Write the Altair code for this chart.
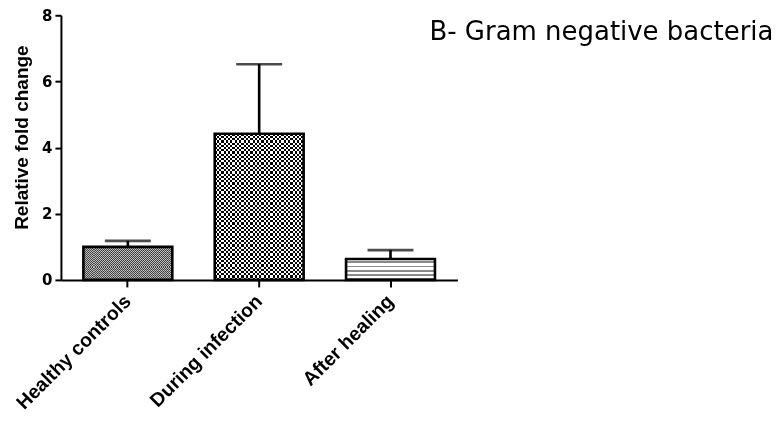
import altair as alt
import pandas as pd

categories = ["Healthy controls", "During infection", "After healing"]
means = [1.0, 4.42, 0.63]
errors = [0.18, 2.10, 0.27]
y_ticks = [0, 2, 4, 6, 8]
title_text = "B- Gram negative bacteria"
y_title = "Relative fold change"

df = pd.DataFrame({
    "group": categories,
    "mean": means,
    "upper": [m + e for m, e in zip(means, errors)],
})

FONT = "Liberation Sans"
WIDE = "DejaVu Sans"


def stripes(n, c1, c2, frac=0.5, vertical=False):
    stops = []
    for i in range(n):
        a = i / n
        b = (i + frac) / n
        c = (i + 1) / n
        stops += [alt.GradientStop(offset=a, color=c1), alt.GradientStop(offset=b, color=c1),
                  alt.GradientStop(offset=b, color=c2), alt.GradientStop(offset=c, color=c2)]
    if vertical:  # colour varies along y -> horizontal stripes
        return alt.LinearGradient(gradient="linear", stops=stops, x1=0, x2=0, y1=0, y2=1)
    return alt.LinearGradient(gradient="linear", stops=stops, x1=0, x2=1, y1=0, y2=0)


x_enc = alt.X(
    "group:N", sort=categories,
    scale=alt.Scale(paddingInner=0.323, paddingOuter=0.171),
    axis=alt.Axis(title=None, labelAngle=-45, labelAlign="right", labelBaseline="middle",
                  labelPadding=11, tickSize=7, labelFont=FONT, labelFontSize=19.5),
)
y_enc = alt.Y(
    "mean:Q", scale=alt.Scale(domain=[0, 8]),
    axis=alt.Axis(title=y_title, values=y_ticks, grid=False, tickSize=6, labelPadding=3,
                  labelFont=WIDE, labelFontSize=15,
                  titlePadding=10, titleFontSize=19, titleFontWeight="bold", titleFont=FONT,
                  titleColor="black", titleY=122),
)

base = alt.Chart(df).encode(x=x_enc, y=y_enc)


def only(name):
    return base.transform_filter(alt.datum.group == name)


healthy_a = only(categories[0]).mark_bar(fill=stripes(44, "#4a4a4a", "#c4c4c4"), strokeWidth=0)
healthy_b = only(categories[0]).mark_bar(fill=stripes(16, "#000000", "#ffffff", vertical=True),
                                         strokeWidth=0, blend="difference")
inf_a = only(categories[1]).mark_bar(fill=stripes(20, "#000000", "#ffffff"), strokeWidth=0)
inf_b = only(categories[1]).mark_bar(fill=stripes(33, "#000000", "#ffffff", vertical=True),
                                     strokeWidth=0, blend="difference")
after_a = only(categories[2]).mark_bar(fill=stripes(5, "#ffffff", "#8a8a8a", frac=0.55, vertical=True),
                                       strokeWidth=0)

outline = base.mark_bar(fillOpacity=0, stroke="black", strokeWidth=2.6)
err_rule = base.mark_rule(color="black", strokeWidth=2.6).encode(y2="upper:Q")
err_cap = base.mark_tick(color="black", thickness=2.6, size=46, orient="horizontal").encode(
    y=alt.Y("upper:Q"))

chart = alt.layer(
    healthy_a, healthy_b, inf_a, inf_b, after_a, outline, err_rule, err_cap
).properties(
    width=397, height=265,
    padding={"left": 53, "top": 7, "right": 316, "bottom": 135},
    autosize=alt.AutoSizeParams(type="none"),
    title=alt.TitleParams(title_text, anchor="start", frame="group", dx=369, dy=62,
                          fontSize=26, fontWeight="normal", font=WIDE, color="black",
                          baseline="alphabetic"),
).configure_view(stroke=None).configure_axis(
    domainColor="black", domainWidth=2, tickColor="black", tickWidth=2,
    labelFontWeight="bold", labelColor="black",
)

chart.save("out.html", embed_options={"renderer": "svg", "actions": False})
